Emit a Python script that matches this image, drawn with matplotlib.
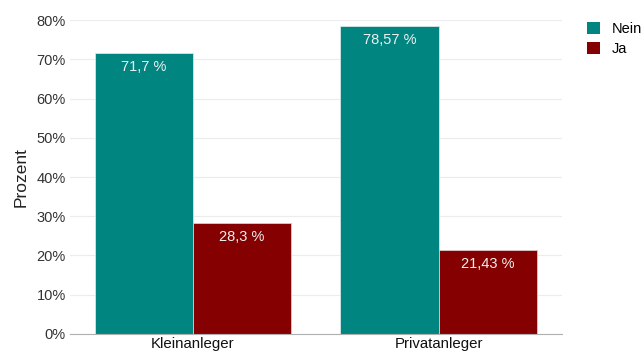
import numpy as np
import matplotlib
matplotlib.use("Agg")
import matplotlib.pyplot as plt
from matplotlib.patches import Patch

plt.rcParams["font.family"] = ["Liberation Sans", "DejaVu Sans"]

categories = ["Kleinanleger", "Privatanleger"]
series = ["Nein", "Ja"]
nein = [0.717, 0.7857]
ja = [0.283, 0.2143]
labels_nein = ["71,7 %", "78,57 %"]
labels_ja = ["28,3 %", "21,43 %"]
yticks = [0, 0.1, 0.2, 0.3, 0.4, 0.5, 0.6, 0.7, 0.8]

TEAL = "#008580"
RED = "#850000"

fig = plt.figure(figsize=(6.42, 3.53), dpi=100)
ax = fig.add_axes([0.109, 0.054, 0.766, 0.889])

x = np.arange(len(categories))
w = 0.4
b1 = ax.bar(x - w / 2, nein, w, color=TEAL, edgecolor="#d0e8e6", linewidth=0.6, zorder=2)
b2 = ax.bar(x + w / 2, ja, w, color=RED, edgecolor="#e0c8c8", linewidth=0.6, zorder=2)

for bars, labs in ((b1, labels_nein), (b2, labels_ja)):
    for rect, lab in zip(bars, labs):
        ax.annotate(lab, (rect.get_x() + rect.get_width() / 2, rect.get_height()),
                    xytext=(0, -10), textcoords="offset points",
                    ha="center", va="center", color="#f0f0f0", fontsize=10.5)

ax.set_xlim(-0.5, 1.5)
ax.set_ylim(0, 0.8)
ax.set_yticks(yticks)
ax.set_yticklabels([f"{int(round(t * 100))}%" for t in yticks])
ax.set_xticks(x)
ax.set_xticklabels(categories)
ax.set_ylabel("Prozent", fontsize=12.5, color="#222222", labelpad=6)

ax.grid(axis="y", color="#ececec", linewidth=0.8, zorder=0)
ax.set_axisbelow(True)
for s in ("top", "right", "left"):
    ax.spines[s].set_visible(False)
ax.spines["bottom"].set_color("#b0b0b0")
ax.tick_params(axis="both", length=0, labelsize=10.5, colors="#333333")
ax.tick_params(axis="x", pad=2, labelsize=10.8, labelcolor="#111111")
ax.tick_params(axis="y", pad=3)

handles = [Patch(facecolor=TEAL), Patch(facecolor=RED)]
fig.legend(handles, series, loc="upper left", bbox_to_anchor=(0.905, 0.955),
           frameon=False, fontsize=10.5, handlelength=0.9, handleheight=0.9,
           handletextpad=0.8, labelspacing=0.4, borderaxespad=0)

fig.savefig("out.png", dpi=100)
